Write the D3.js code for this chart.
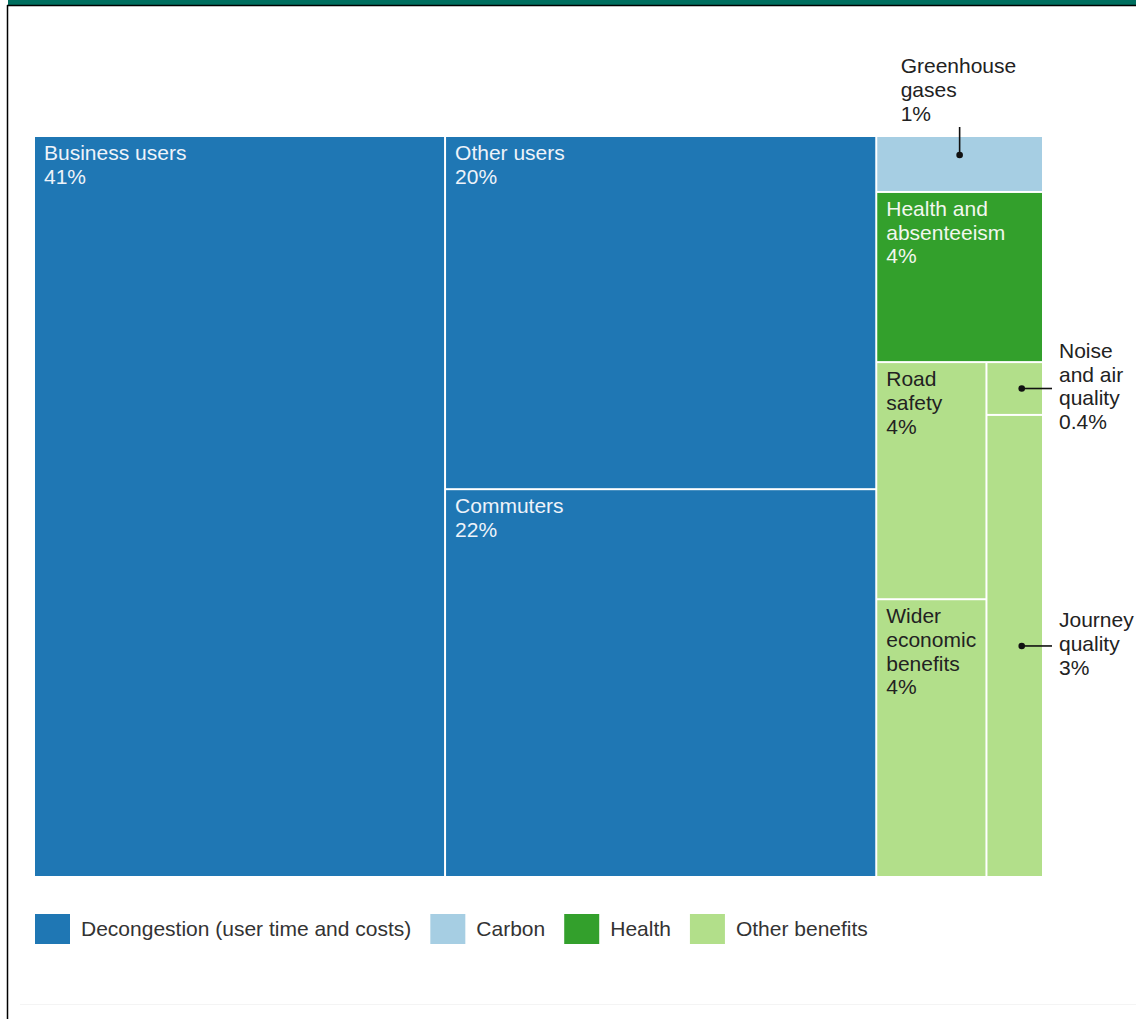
<!DOCTYPE html>
<html>
<head>
<meta charset="utf-8">
<script src="https://cdn.jsdelivr.net/npm/d3@7"></script>
<style>
  body { margin: 0; background: #fff; }
  svg { display: block; font-family: "Liberation Sans", Arial, sans-serif; }
</style>
</head>
<body>
<div class="chart-container"></div>
<script>
// shares estimated from the drawn areas, labels as printed on the chart
const names = ['Business users', 'Other users', 'Commuters', 'Greenhouse\ngases',
  'Health and\nabsenteeism', 'Road\nsafety', 'Wider\neconomic\nbenefits',
  'Noise\nand air\nquality', 'Journey\nquality'];
const groups = ['Decongestion', 'Decongestion', 'Decongestion', 'Carbon',
  'Health', 'Other', 'Other', 'Other', 'Other'];
const shares = [40.8, 20.4, 22.4, 1.25, 3.8, 3.5, 4.1, 0.4, 3.5];
const pctLabels = ['41%', '20%', '22%', '1%', '4%', '4%', '4%', '0.4%', '3%'];
const legendGroups = ['Decongestion', 'Carbon', 'Health', 'Other'];
const legendLabels = ['Decongestion (user time and costs)', 'Carbon', 'Health', 'Other benefits'];

const width = 1136, height = 1019;
const mapLeft = 35, mapTop = 137, tw = 1007, th = 739;

const color = d3.scaleOrdinal()
  .domain(legendGroups)
  .range(['#1f77b4', '#a6cee3', '#33a02c', '#b2df8a']);
const textColor = {Decongestion: '#eef3fa', Carbon: '#222', Health: '#f2f7ee', Other: '#222'};

const leaf = i => ({i: i, value: shares[i]});
const tree = {dir: 'dice', children: [
  leaf(0),
  {dir: 'slice', children: [leaf(1), leaf(2)]},
  {dir: 'slice', children: [leaf(3), leaf(4),
    {dir: 'dice', children: [
      {dir: 'slice', children: [leaf(5), leaf(6)]},
      {dir: 'slice', children: [leaf(7), leaf(8)]}
    ]}
  ]}
]};

const root = d3.hierarchy(tree).sum(d => d.value || 0);
d3.treemap()
  .size([tw, th])
  .paddingInner(2)
  .tile((node, x0, y0, x1, y1) =>
    (node.data.dir === 'slice' ? d3.treemapSlice : d3.treemapDice)(node, x0, y0, x1, y1))(root);

const svg = d3.select('.chart-container').append('svg')
  .attr('width', width)
  .attr('height', height);

// frame: green strip on top, black rules
svg.append('rect').attr('x', 8).attr('y', 0).attr('width', width - 8).attr('height', 5).attr('fill', '#006f5f');
svg.append('line').attr('x1', 7).attr('x2', width).attr('y1', 5.5).attr('y2', 5.5).attr('stroke', '#000').attr('stroke-width', 1.5);
svg.append('line').attr('x1', 7.5).attr('x2', 7.5).attr('y1', 5).attr('y2', height).attr('stroke', '#000').attr('stroke-width', 1.5);
svg.append('line').attr('x1', 20).attr('x2', width).attr('y1', 1004.5).attr('y2', 1004.5).attr('stroke', '#f4f4f4');

const chart = svg.append('g').attr('transform', 'translate(' + mapLeft + ',' + mapTop + ')');

const leaves = root.leaves();

chart.selectAll('rect.cell')
  .data(leaves)
  .enter()
  .append('rect')
    .attr('class', 'cell')
    .attr('x', d => d.x0)
    .attr('y', d => d.y0)
    .attr('width', d => d.x1 - d.x0)
    .attr('height', d => d.y1 - d.y0)
    .attr('fill', d => color(groups[d.data.i]));

const lh = 23.7;
const outside = [3, 7, 8];

// labels inside the cells
const inner = chart.selectAll('text.inner')
  .data(leaves.filter(d => !outside.includes(d.data.i)))
  .enter()
  .append('text')
    .attr('class', 'inner')
    .attr('font-size', 21)
    .attr('fill', d => textColor[groups[d.data.i]]);

inner.each(function(d) {
  const lines = names[d.data.i].split('\n').concat(pctLabels[d.data.i]);
  d3.select(this).selectAll('tspan')
    .data(lines)
    .enter()
    .append('tspan')
      .attr('x', d.x0 + 9)
      .attr('y', (l, k) => d.y0 + 23 + k * lh)
      .text(l => l);
});

// call-out labels for the small cells
const callouts = chart.append('g').attr('id', 'callouts');
leaves.filter(d => outside.includes(d.data.i)).forEach(d => {
  const i = d.data.i;
  const lines = names[i].split('\n').concat(pctLabels[i]);
  const cx = (d.x0 + d.x1) / 2, cy = (d.y0 + d.y1) / 2;
  let dot, end, tx, ty;
  if (d.y0 < 5) {
    // above the treemap
    dot = [cx, d.y0 + 18];
    end = [cx, d.y0 - 10];
    tx = cx - 59;
    ty = d.y0 - 16.5 - (lines.length - 1) * lh;
  } else {
    dot = [cx + 7, cy];
    end = [d.x1 + 10, cy];
    tx = d.x1 + 17;
    ty = cy - (lines.length - 1) * lh / 2 + 5;
  }
  callouts.append('line')
    .attr('x1', dot[0]).attr('y1', dot[1])
    .attr('x2', end[0]).attr('y2', end[1])
    .attr('stroke', '#111').attr('stroke-width', 1.6);
  callouts.append('circle')
    .attr('cx', dot[0]).attr('cy', dot[1]).attr('r', 3.3)
    .attr('fill', '#111');
  callouts.append('text')
    .attr('font-size', 21)
    .attr('fill', '#222')
    .selectAll('tspan')
    .data(lines)
    .enter()
    .append('tspan')
      .attr('x', tx)
      .attr('y', (l, k) => ty + k * lh)
      .text(l => l);
});

// legend
const legend = svg.append('g').attr('id', 'legend');
let lx = 35;
legendGroups.forEach((g, k) => {
  legend.append('rect')
    .attr('x', lx).attr('y', 914)
    .attr('width', 35).attr('height', 30)
    .attr('fill', color(g));
  const t = legend.append('text')
    .attr('x', lx + 46).attr('y', 936)
    .attr('font-size', 21)
    .attr('fill', '#333')
    .text(legendLabels[k]);
  lx = lx + 46 + t.node().getComputedTextLength() + 19;
});
</script>
</body>
</html>
